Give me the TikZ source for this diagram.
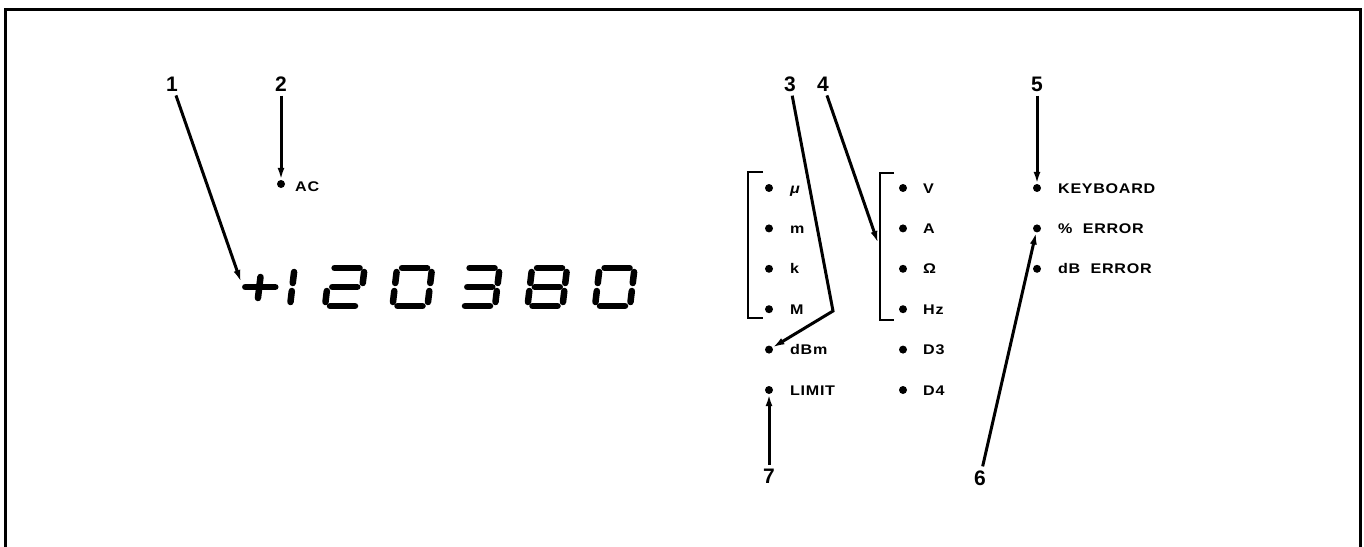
\documentclass[tikz,border=0pt]{standalone}
\usepackage{fontspec}
\setmainfont{Liberation Sans}
\newfontfamily\widefont[FakeStretch=1.15,LetterSpace=5]{Liberation Sans}
\usetikzlibrary{arrows.meta}
\def\SegA{\draw[seg] (5,-38)--(30,-38);}
\def\SegB{\draw[seg] (35,-34)--(35,-23);}
\def\SegC{\draw[seg] (35,-15)--(35,-4);}
\def\SegD{\draw[seg] (5,0)--(30,0);}
\def\SegE{\draw[seg] (0,-15)--(0,-4);}
\def\SegF{\draw[seg] (0,-34)--(0,-23);}
\def\SegG{\draw[seg] (5,-19)--(30,-19);}
\newcommand\sevseg[2]{\begin{scope}[shift={(#1,306)},xslant=0.12]#2\end{scope}}
\begin{document}
\begin{tikzpicture}[x=1pt,y=-1pt,
  seg/.style={line width=6.5pt,line cap=round},
  lead/.style={line width=3pt,-{Latex[length=12pt,width=7pt]}},
  num/.style={font=\bfseries\fontsize{21}{21}\selectfont, inner sep=4pt},
  lbl/.style={font=\widefont\bfseries\fontsize{14}{14}\selectfont, anchor=base west, inner sep=0pt},
  ledot/.style={circle, fill, inner sep=0pt, minimum size=8pt},
  brk/.style={line width=2.2pt}
]
\useasboundingbox (0,0) rectangle (1364,546);
\draw[line width=3pt] (5,550) -- (5,9) -- (1360,9) -- (1360,550);

% seven segment display
\begin{scope}[shift={(243,306)},xslant=0.12]
  \draw[seg] (0,-19)--(30,-19);
  \draw[seg] (14,-29)--(14,-8);
\end{scope}
\sevseg{255}{\SegB\SegC}
\sevseg{325}{\SegA\SegB\SegG\SegE\SegD}
\sevseg{392.5}{\SegA\SegB\SegC\SegD\SegE\SegF}
\sevseg{460}{\SegA\SegB\SegG\SegC\SegD}
\sevseg{527.5}{\SegA\SegB\SegC\SegD\SegE\SegF\SegG}
\sevseg{595}{\SegA\SegB\SegC\SegD\SegE\SegF}
\coordinate (plus) at (241,282);

% number labels
\node[num] (n1) at (172,84) {1};
\node[num] (n2) at (281,84) {2};
\node[num] (n3) at (790,84) {3};
\node[num] (n4) at (823,84) {4};
\node[num] (n5) at (1037,84) {5};
\node[num] (n6) at (980,478) {6};
\node[num] (n7) at (769,476) {7};

% AC
\node[ledot] (ac) at (281,184) {};
\node[lbl] (tac) at (295,191) {AC};

% column 1
\node[ledot] (mu) at (769,188) {};
\node[ledot] (m) at (769,228.4) {};
\node[ledot] (k) at (769,268.8) {};
\node[ledot] (M) at (769,309.2) {};
\node[ledot] (dbm) at (769,349.6) {};
\node[ledot] (limit) at (769,390) {};
\node[lbl] (tmu) at (790,193) {\itshape μ};
\node[lbl] (tm) at (790,233.4) {m};
\node[lbl] (tk) at (790,273.8) {k};
\node[lbl] (tM) at (790,314.2) {M};
\node[lbl] (tdbm) at (790,354.6) {dBm};
\node[lbl] (tlimit) at (790,395) {LIMIT};

% column 2
\node[ledot] (V) at (903,188) {};
\node[ledot] (A) at (903,228.4) {};
\node[ledot] (ohm) at (903,268.8) {};
\node[ledot] (hz) at (903,309.2) {};
\node[ledot] (d3) at (903,349.6) {};
\node[ledot] (d4) at (903,390) {};
\node[lbl] (tV) at (923,193) {V};
\node[lbl] (tA) at (923,233.4) {A};
\node[lbl] (tohm) at (923,273.8) {Ω};
\node[lbl] (thz) at (923,314.2) {Hz};
\node[lbl] (td3) at (923,354.6) {D3};
\node[lbl] (td4) at (923,395) {D4};

% column 3
\node[ledot] (kb) at (1037,188) {};
\node[ledot] (perr) at (1037,228.4) {};
\node[ledot] (dberr) at (1037,268.8) {};
\node[lbl] (tkb) at (1058,193) {KEYBOARD};
\node[lbl] (tperr) at (1058,233.4) {\%\ \ ERROR};
\node[lbl] (tdberr) at (1058,273.8) {dB\ \ ERROR};

% brackets
\draw[brk] (763,172) -- (748,172) -- (748,318) -- (763,318);
\draw[brk] (894,173) -- (880,173) -- (880,320) -- (894,320);
\coordinate (bend3) at (833,311);
\coordinate (br4) at (878,243);

% leaders
\draw[lead] (n1) -- (plus);
\draw[lead] (n2) -- (ac);
\draw[lead] (n3) -- (bend3) -- (dbm);
\draw[lead] (n4) -- (br4);
\draw[lead] (n5) -- (kb);
\draw[lead] (n6) -- (perr);
\draw[lead] (n7) -- (limit);
\end{tikzpicture}
\end{document}
